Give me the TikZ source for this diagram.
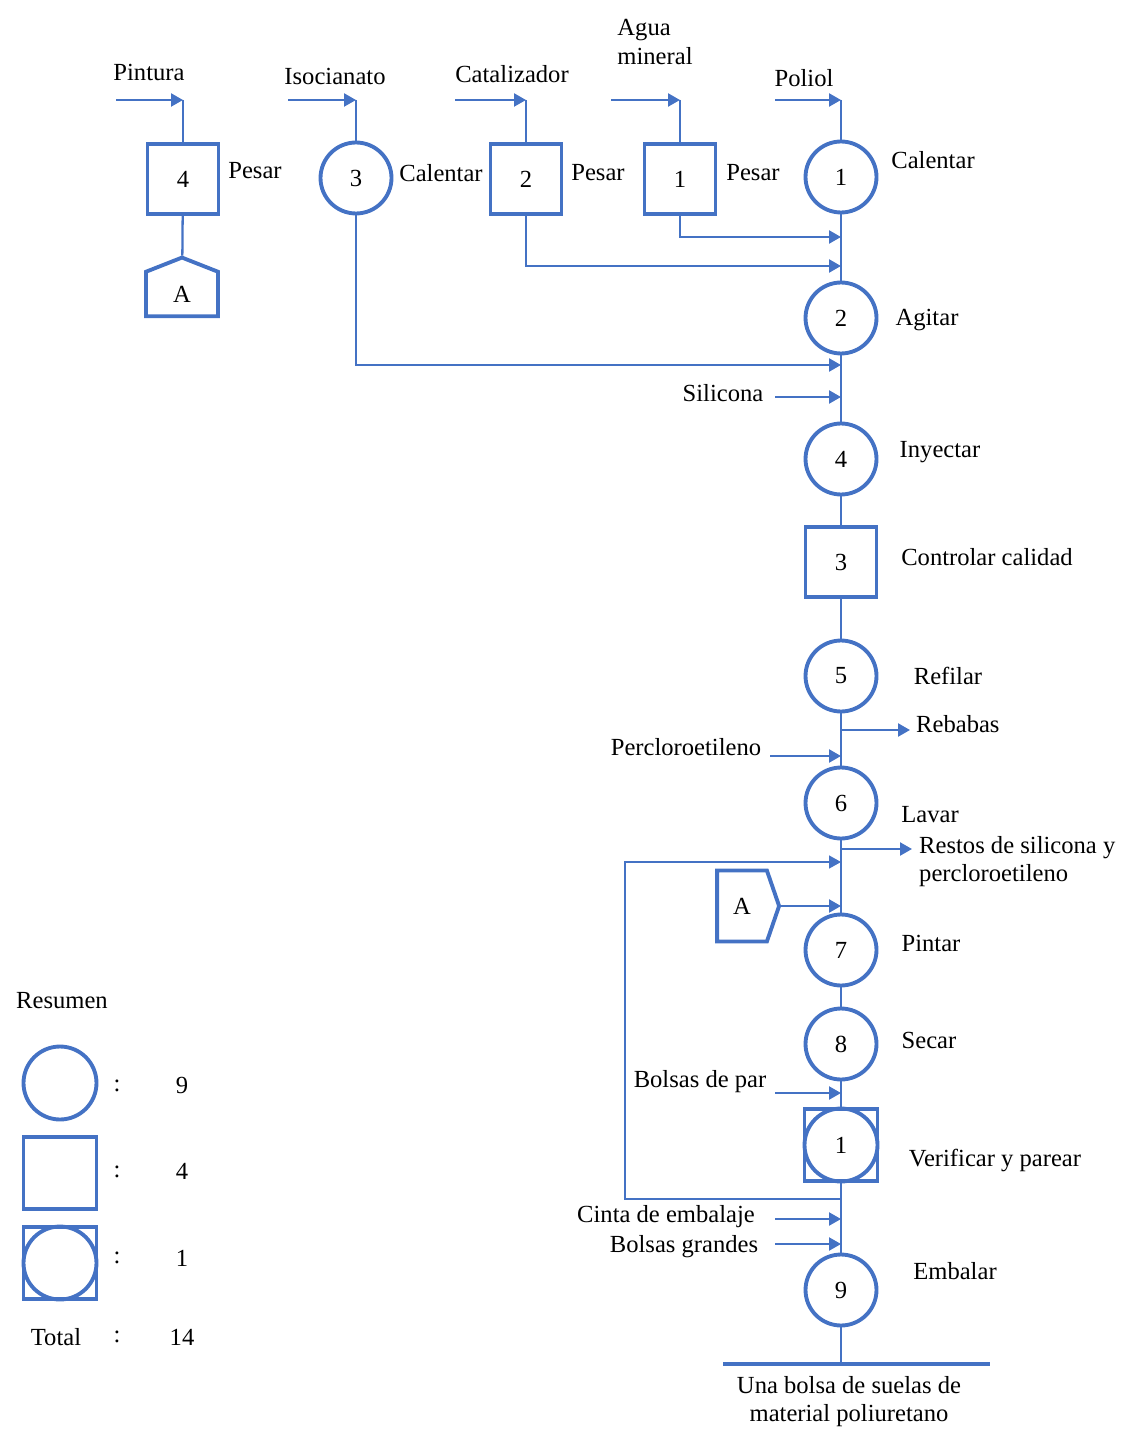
\documentclass[tikz,border=0pt]{standalone}
\usepackage{fontspec}
\setmainfont{Liberation Serif}
\usetikzlibrary{arrows.meta,shapes.symbols}
\definecolor{flowblue}{RGB}{68,114,196}

\begin{document}
\begin{tikzpicture}[x=0.02cm, y=-0.02cm, font=\fontsize{14}{16}\selectfont, >={Triangle[length=2.4mm, width=2.6mm]},
  oper/.style={circle, draw=flowblue, line width=2.2pt, minimum size=14.2mm, inner sep=0pt},
  insp/.style={rectangle, draw=flowblue, line width=2.2pt, minimum width=14.2mm, minimum height=14mm, inner sep=0pt},
  conn/.style={signal, draw=flowblue, line width=2.2pt, inner sep=0pt},
  flow/.style={draw=flowblue, line width=1.3pt},
  back/.style={draw=flowblue, line width=0.9pt}]
  \useasboundingbox (0,0) rectangle (1123,1435);

  % feed lines at the top
  \node[insp] (pe4) at (183,179) {4};
  \node[oper] (ca3) at (356,178) {3};
  \node[insp] (pe2) at (526,179) {2};
  \node[insp] (pe1) at (680,179) {1};
  \node[oper] (op1) at (841,177) {1};
  \node[conn, signal to=north, signal pointer angle=137, minimum width=14.4mm, minimum height=9.6mm] (conA1) at (182,294) {A};

  \node (lpint) at (149,72) {Pintura};
  \node (liso)  at (335,76) {Isocianato};
  \node (lcat)  at (512,74) {Catalizador};
  \node[align=left] (lagua) at (655,42) {Agua\\mineral};
  \node (lpol)  at (804,78) {Poliol};
  \node (lpes4) at (255,171) {Pesar};
  \node (lcal3) at (441,173) {Calentar};
  \node (lpes2) at (598,173) {Pesar};
  \node (lpes1) at (753,173) {Pesar};
  \node (lcal1) at (933,160) {Calentar};

  \coordinate (pint-s) at (116,100);
  \coordinate (iso-s)  at (288,100);
  \coordinate (cat-s)  at (455,100);
  \coordinate (agua-s) at (611,100);
  \coordinate (pol-s)  at (775,100);
  \draw[flow,->] (pint-s) -- (pint-s -| pe4);
  \draw[flow] (pint-s -| pe4) -- (pe4);
  \draw[flow,->] (iso-s) -- (iso-s -| ca3);
  \draw[flow] (iso-s -| ca3) -- (ca3);
  \draw[flow,->] (cat-s) -- (cat-s -| pe2);
  \draw[flow] (cat-s -| pe2) -- (pe2);
  \draw[flow,->] (agua-s) -- (agua-s -| pe1);
  \draw[flow] (agua-s -| pe1) -- (pe1);
  \draw[flow,->] (pol-s) -- (pol-s -| op1);
  \draw[flow] (pol-s -| op1) -- (op1);
  \draw[flow] (pe4) -- (conA1);

  % main column
  \node[oper] (op2) at (841,318) {2};
  \node[oper] (op4) at (841,459) {4};
  \node[insp] (in3) at (841,562) {3};
  \node[oper] (op5) at (841,676) {5};
  \node[oper] (op6) at (841,803) {6};
  \node[oper] (op7) at (841,950) {7};
  \node[oper] (op8) at (841,1044) {8};
  \node[insp, minimum width=14.6mm, minimum height=14.4mm] (ins1) at (841,1145) {};
  \node[oper, minimum size=14.6mm] (ins1c) at (ins1) {1};
  \node[oper] (op9) at (841,1290) {9};
  \node[conn, signal to=east, signal pointer angle=142, minimum width=12.4mm, minimum height=14.2mm] (conA2) at (742,906) {A};
  \coordinate (fin) at (841,1364);

  \node (lagi) at (927,320) {Agitar};
  \node (lsil) at (723,393) {Silicona};
  \node (liny) at (940,452) {Inyectar};
  \node (lctl) at (987,557) {Controlar calidad};
  \node (lref) at (948,676) {Refilar};
  \node[anchor=west] (lreb) at (910,724) {Rebabas};
  \node (lper) at (686,747) {Percloroetileno};
  \node (llav) at (930,815) {Lavar};
  \node[anchor=west, align=left] (lres) at (913,862) {Restos de silicona y\\percloroetileno};
  \node (lpin) at (931,943) {Pintar};
  \node (lsec) at (929,1040) {Secar};
  \node (lbpar) at (700,1082) {Bolsas de par};
  \node (lver) at (995,1160) {Verificar y parear};
  \node (lcin) at (666,1217) {Cinta de embalaje};
  \node (lbgr) at (684,1247) {Bolsas grandes};
  \node (lemb) at (955,1271) {Embalar};
  \node[align=center] (lfin) at (849,1402) {Una bolsa de suelas de\\material poliuretano};

  \draw[flow] (op1) -- (op2) -- (op4) -- (in3) -- (op5) -- (op6) -- (op7) -- (op8) -- (ins1) -- (op9) -- (fin);
  \coordinate (fin-l) at (723,1364);
  \coordinate (fin-r) at (990,1364);
  \draw[draw=flowblue, line width=2pt] (fin-l) -- (fin-r);

  % joins into the column
  \coordinate (j1) at (841,237);
  \coordinate (j2) at (841,266);
  \coordinate (j3) at (841,365);
  \draw[flow,->] (pe1) |- (j1);
  \draw[flow,->] (pe2) |- (j2);
  \draw[flow,->] (ca3) |- (j3);

  \coordinate (sil-s) at (775,397);
  \coordinate (per-s) at (770,756);
  \coordinate (bpar-s) at (775,1093);
  \coordinate (cin-s) at (775,1219);
  \coordinate (bgr-s) at (775,1244);
  \draw[flow,->] (sil-s) -- (sil-s -| op2);
  \draw[flow,->] (per-s) -- (per-s -| op6);
  \draw[flow,->] (bpar-s) -- (bpar-s -| op8);
  \draw[flow,->] (cin-s) -- (cin-s -| op9);
  \draw[flow,->] (bgr-s) -- (bgr-s -| op9);
  \draw[flow,->] (conA2.east) -- (conA2.east -| op7);

  % outputs
  \coordinate (reb-e) at (910,730);
  \coordinate (res-e) at (912,849);
  \draw[flow,->] (reb-e -| op5) -- (reb-e);
  \draw[flow,->] (res-e -| op6) -- (res-e);

  % return loop
  \coordinate (rw-s) at (841,1199);
  \coordinate (rw-e) at (841,862);
  \draw[back,->] (rw-s) -- ++(-216,0) |- (rw-e);

  % summary
  \node (lres0) at (62,1001) {Resumen};
  \node[oper, minimum size=14.6mm] (lgop) at (60,1083) {};
  \node[insp, minimum width=14.6mm, minimum height=14.4mm] (lgin) at (60,1173) {};
  \node[insp, minimum width=14.6mm, minimum height=14.4mm] (lgco) at (60,1263) {};
  \node[oper, minimum size=14.6mm] (lgcoc) at (lgco) {};
  \node (lgtot) at (56,1337) {Total};
  \node (c1) at (117,1086) {:};
  \node (c2) at (117,1172) {:};
  \node (c3) at (117,1258) {:};
  \node (c4) at (117,1337) {:};
  \node (n1) at (182,1085) {9};
  \node (n2) at (182,1171) {4};
  \node (n3) at (182,1258) {1};
  \node (n4) at (182,1337) {14};
\end{tikzpicture}
\end{document}
